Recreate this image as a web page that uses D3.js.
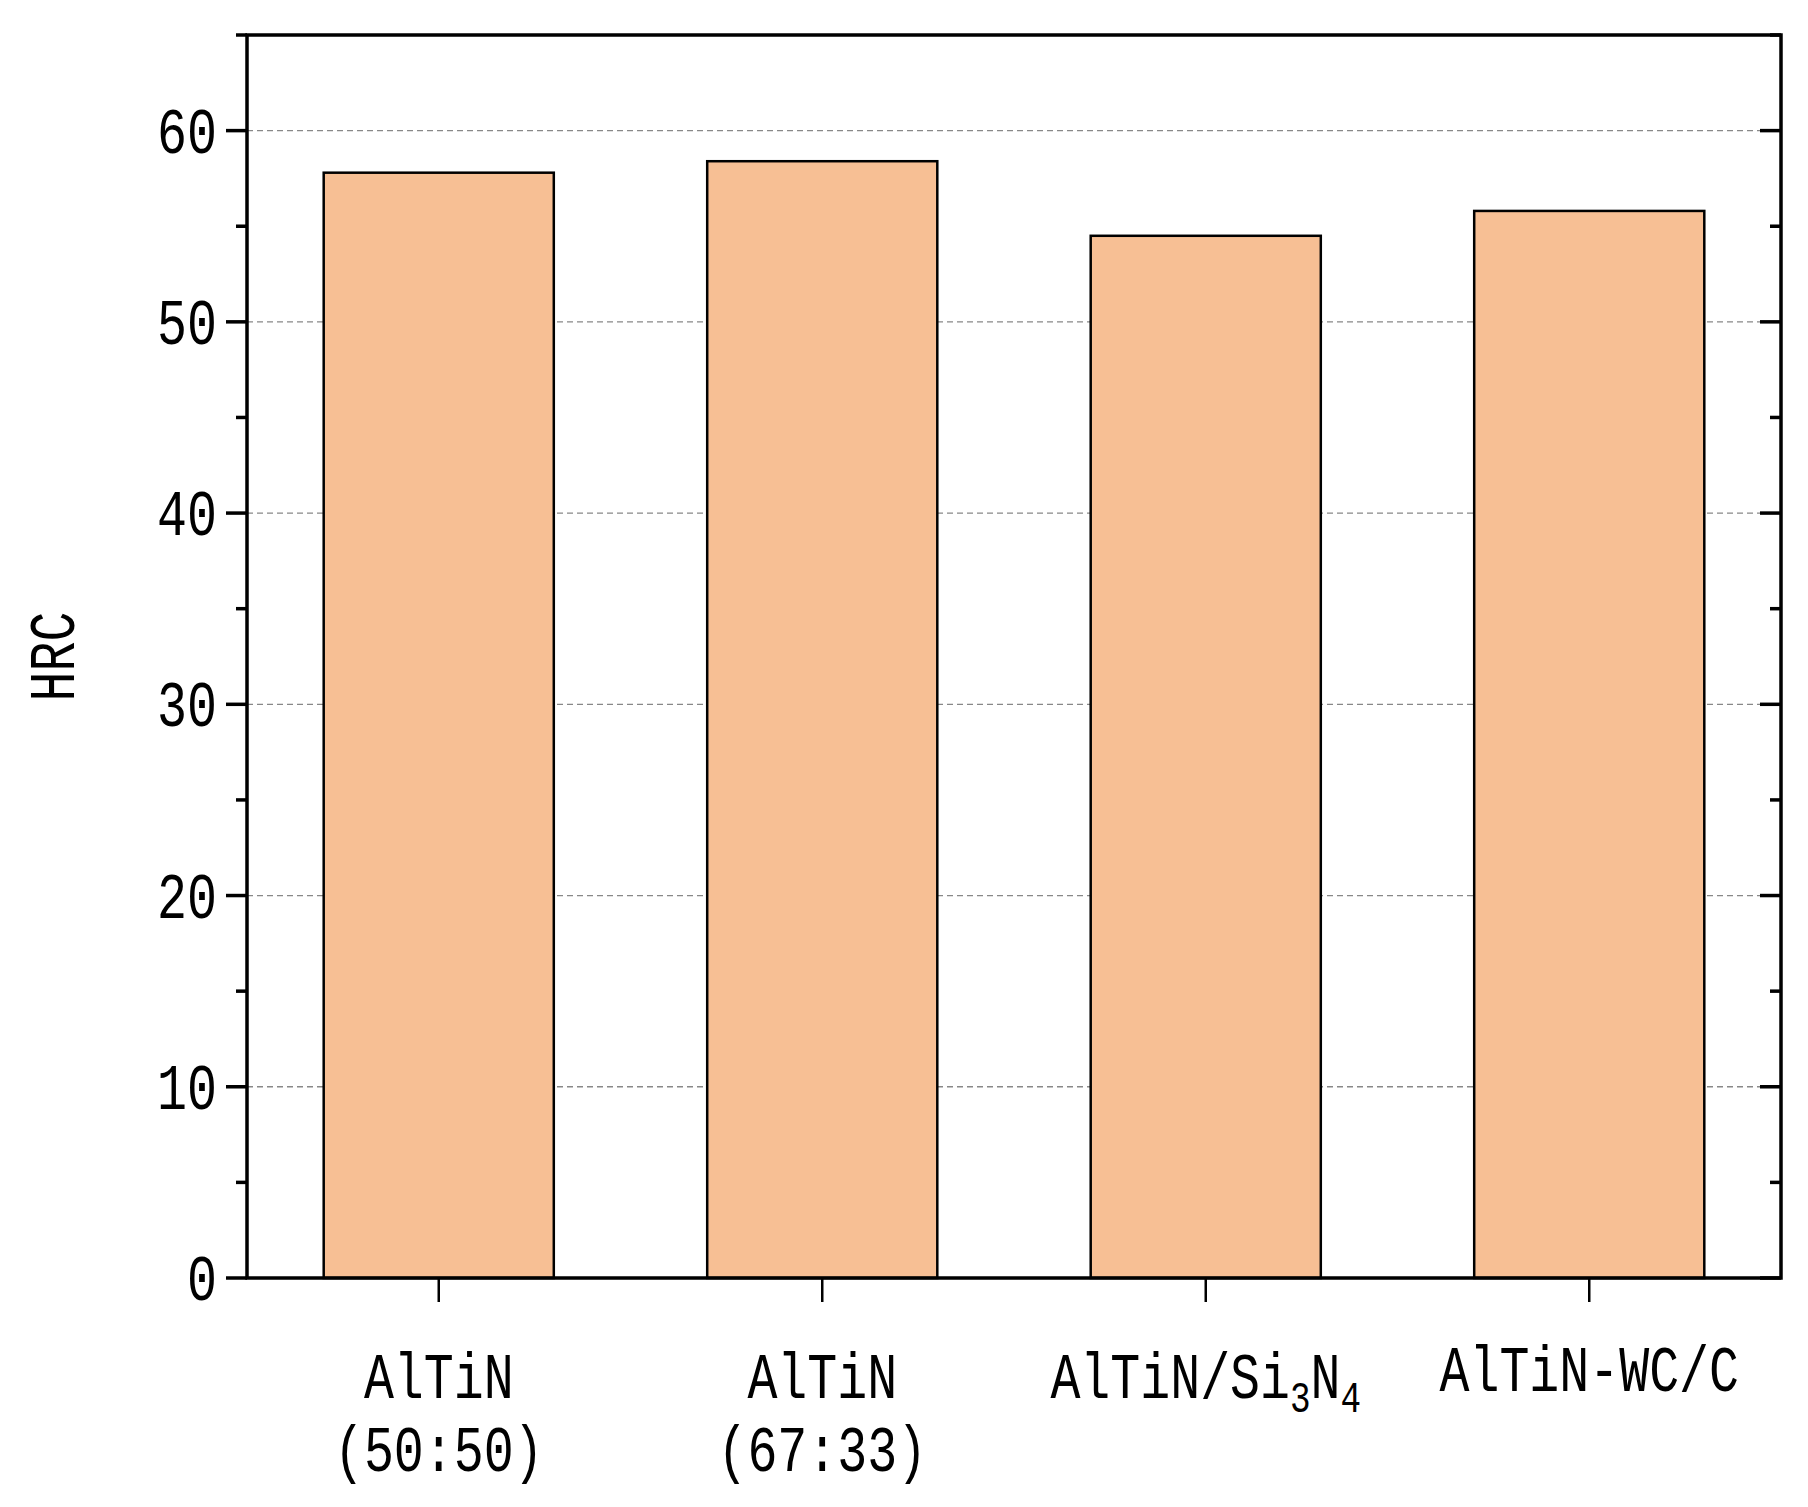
<!DOCTYPE html>
<html lang="en">
<head>
<meta charset="utf-8">
<title>HRC bar chart</title>
<script src="https://cdn.jsdelivr.net/npm/d3@7"></script>
<style>
  body { margin: 0; background: #fff; }
  text { font-family: "Liberation Mono", "DejaVu Sans Mono", monospace; fill: #000; }
</style>
</head>
<body>
<script>
// data
var categories = ["AlTiN (50:50)", "AlTiN (67:33)", "AlTiN/Si3N4", "AlTiN-WC/C"];
var hrc = [57.8, 58.4, 54.5, 55.8];
var yTicks = [0, 10, 20, 30, 40, 50, 60];
var yMinor = [5, 15, 25, 35, 45, 55, 65];

var W = 1808, H = 1507;
var m = { left: 247, right: 27, top: 35, bottom: 229 };
var iw = W - m.left - m.right, ih = H - m.top - m.bottom;

var svg = d3.select("body").append("svg").attr("width", W).attr("height", H);
var g = svg.append("g").attr("transform", "translate(" + m.left + "," + m.top + ")");

var x = d3.scaleBand().domain(categories).range([0, iw]).paddingInner(0.4).paddingOuter(0.2);
var y = d3.scaleLinear().domain([0, 65]).range([ih, 0]);

// grid
g.selectAll(".grid").data(yTicks.slice(1)).enter().append("line")
  .attr("x1", 0).attr("x2", iw).attr("y1", d => y(d)).attr("y2", d => y(d))
  .attr("stroke", "#888").attr("stroke-width", 1.3).attr("stroke-dasharray", "6,4");

// bars
g.selectAll(".bar").data(hrc).enter().append("rect")
  .attr("x", (d, i) => x(categories[i])).attr("width", x.bandwidth())
  .attr("y", d => y(d)).attr("height", d => ih - y(d))
  .attr("fill", "#f7bf94").attr("stroke", "#000").attr("stroke-width", 2.5);

// frame
g.append("rect").attr("width", iw).attr("height", ih)
  .attr("fill", "none").attr("stroke", "#000").attr("stroke-width", 3.5);

// left axis ticks (outward)
var tick = function (vals, len, side) {
  g.selectAll(null).data(vals).enter().append("line")
    .attr("x1", side === "l" ? -len : iw - len).attr("x2", side === "l" ? 0 : iw)
    .attr("y1", d => y(d)).attr("y2", d => y(d))
    .attr("stroke", "#000").attr("stroke-width", 3.5);
};
tick(yTicks, 21, "l");
tick(yMinor, 11, "l");
tick(yTicks, 21, "r");
tick(yMinor, 11, "r");

// y labels
g.selectAll(".yl").data(yTicks).enter().append("text")
  .attr("transform", d => "translate(-30," + (y(d) + 22) + ") scale(0.78,1)")
  .attr("text-anchor", "end").attr("font-size", 64).text(d => d);

// x ticks
g.selectAll(".xt").data(categories).enter().append("line")
  .attr("x1", d => x(d) + x.bandwidth() / 2).attr("x2", d => x(d) + x.bandwidth() / 2)
  .attr("y1", ih).attr("y2", ih + 24).attr("stroke", "#000").attr("stroke-width", 2.5);

// x labels
var xl = g.selectAll(".xl").data(categories).enter().append("text")
  .attr("transform", d => "translate(" + (x(d) + x.bandwidth() / 2) + "," + (ih + 120) + ") scale(0.78,1)")
  .attr("text-anchor", "middle").attr("font-size", 64);
xl.each(function (d) {
  var t = d3.select(this);
  if (d === "AlTiN/Si3N4") {
    t.append("tspan").text("AlTiN/Si");
    t.append("tspan").attr("font-size", 44).attr("dy", 14).text("3");
    t.append("tspan").attr("dy", -14).text("N");
    t.append("tspan").attr("font-size", 44).attr("dy", 14).text("4");
  } else if (d.indexOf(" ") > 0) {
    var p = d.split(" ");
    t.append("tspan").attr("x", 0).text(p[0]);
    t.append("tspan").attr("x", 0).attr("dy", 73).text(p[1]);
  } else {
    t.attr("transform", "translate(" + (x(d) + x.bandwidth() / 2) + "," + (ih + 113) + ") scale(0.78,1)").text(d);
  }
});

// y title
svg.append("text").attr("transform", "translate(74," + (m.top + y(32.5)) + ") rotate(-90) scale(0.78,1)")
  .attr("text-anchor", "middle").attr("font-size", 64).text("HRC");
</script>
</body>
</html>
